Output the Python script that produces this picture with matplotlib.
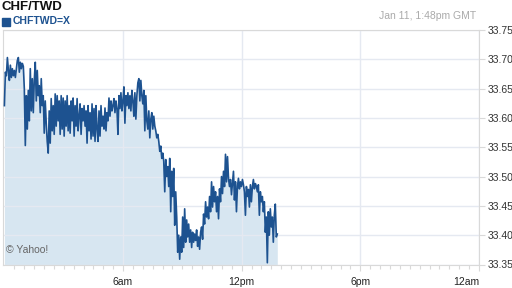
import numpy as np
import matplotlib
matplotlib.use("Agg")
import matplotlib.pyplot as plt

plt.rcParams['font.family'] = ['Liberation Sans', 'DejaVu Sans']

title = "CHF/TWD"
symbol = "CHFTWD=X"
stamp = "Jan 11, 1:48pm GMT"
credit = "\u00a9 Yahoo!"

# CHF/TWD quotes, midnight to 1:48pm GMT
rate = [
    33.621, 33.678, 33.672, 33.703, 33.681, 33.664, 33.690, 33.669, 33.684, 33.672,
    33.681, 33.669, 33.684, 33.698, 33.703, 33.678, 33.695, 33.684, 33.693, 33.688,
    33.650, 33.553, 33.638, 33.581, 33.647, 33.595, 33.684, 33.612, 33.667, 33.609,
    33.664, 33.695, 33.629, 33.681, 33.638, 33.655, 33.609, 33.667, 33.621, 33.638,
    33.574, 33.629, 33.591, 33.560, 33.540, 33.612, 33.557, 33.633, 33.578, 33.621,
    33.572, 33.641, 33.586, 33.638, 33.595, 33.629, 33.572, 33.638, 33.581, 33.634,
    33.569, 33.629, 33.586, 33.638, 33.578, 33.621, 33.574, 33.629, 33.595, 33.634,
    33.569, 33.621, 33.586, 33.633, 33.578, 33.603, 33.624, 33.572, 33.616, 33.595,
    33.621, 33.586, 33.612, 33.557, 33.621, 33.578, 33.609, 33.564, 33.624, 33.569,
    33.616, 33.560, 33.621, 33.581, 33.560, 33.612, 33.569, 33.621, 33.586, 33.603,
    33.581, 33.617, 33.578, 33.609, 33.595, 33.634, 33.603, 33.629, 33.612, 33.621,
    33.633, 33.609, 33.629, 33.616, 33.572, 33.638, 33.616, 33.643, 33.612, 33.629,
    33.653, 33.591, 33.638, 33.621, 33.643, 33.616, 33.638, 33.612, 33.647, 33.629,
    33.603, 33.643, 33.598, 33.638, 33.660, 33.667, 33.629, 33.664, 33.638, 33.624,
    33.647, 33.578, 33.638, 33.595, 33.581, 33.612, 33.566, 33.598, 33.609, 33.581,
    33.603, 33.586, 33.578, 33.566, 33.572, 33.560, 33.543, 33.552, 33.531, 33.540,
    33.526, 33.474, 33.529, 33.500, 33.517, 33.483, 33.531, 33.440, 33.509, 33.466,
    33.514, 33.417, 33.474, 33.431, 33.371, 33.400, 33.359, 33.397, 33.371, 33.431,
    33.379, 33.445, 33.388, 33.426, 33.397, 33.419, 33.388, 33.409, 33.379, 33.405,
    33.388, 33.402, 33.391, 33.409, 33.381, 33.397, 33.376, 33.405, 33.414, 33.393,
    33.436, 33.419, 33.457, 33.431, 33.448, 33.428, 33.466, 33.440, 33.491, 33.448,
    33.483, 33.457, 33.474, 33.440, 33.466, 33.428, 33.479, 33.457, 33.500, 33.471,
    33.509, 33.483, 33.538, 33.491, 33.534, 33.497, 33.483, 33.495, 33.469, 33.488,
    33.509, 33.460, 33.491, 33.440, 33.483, 33.497, 33.479, 33.491, 33.483, 33.495,
    33.486, 33.474, 33.434, 33.483, 33.466, 33.478, 33.448, 33.486, 33.457, 33.483,
    33.495, 33.479, 33.488, 33.483, 33.474, 33.486, 33.434, 33.474, 33.457, 33.466,
    33.440, 33.457, 33.405, 33.431, 33.353, 33.440, 33.400, 33.445, 33.414, 33.431,
    33.388, 33.434, 33.453, 33.397, 33.402,
]
hours = np.linspace(0, 13.8, len(rate))

y_ticks = [33.35, 33.40, 33.45, 33.50, 33.55, 33.60, 33.65, 33.70, 33.75]
x_ticks = [6, 12, 18, 24]
x_labels = ["6am", "12pm", "6pm", "12am"]

line_col = "#1d5290"
fill_col = "#d7e6f1"
grid_col = "#e5e9f1"
edge_col = "#d9d9d9"

fig = plt.figure(figsize=(5.12, 2.88), dpi=100)
ax = fig.add_axes([2.7 / 512, 1 - 264.5 / 288, (479 - 2.7) / 512, (264.5 - 30) / 288])

ax.fill_between(hours, rate, 33.35, color=fill_col, lw=0, zorder=1)
ax.plot(hours, rate, color=line_col, lw=1.2, zorder=3)

ax.set_xlim(-0.086, 24)
ax.set_ylim(33.35, 33.75)

ax.set_yticks(y_ticks)
ax.set_yticklabels([f"{v:.2f}" for v in y_ticks])
ax.yaxis.tick_right()
ax.set_xticks(x_ticks)
ax.set_xticklabels(x_labels)
ax.set_xticks(np.arange(0.5, 24, 0.5), minor=True)

ax.grid(True, which="major", color=grid_col, lw=1.0, zorder=2)
ax.tick_params(axis="y", which="major", length=4, width=0.8, color=edge_col,
               labelsize=7.5, labelcolor="#333333", pad=2)
ax.tick_params(axis="x", which="major", length=4, width=0.8, color=edge_col,
               labelsize=7.5, labelcolor="#222222", pad=5)
ax.tick_params(axis="x", which="minor", length=3, width=0.8, color=edge_col)

for lab in ax.get_xticklabels():
    if lab.get_text() == "12am":
        lab.set_horizontalalignment("right")

for sp in ax.spines.values():
    sp.set_color(edge_col)
    sp.set_linewidth(0.8)

fig.text(2 / 512, 1 - 1.5 / 288, title, fontsize=9.5, fontweight="bold",
         color="#111111", va="top", ha="left")
fig.patches.append(plt.Rectangle((2 / 512, 1 - 26 / 288), 8 / 512, 8 / 288,
                                 transform=fig.transFigure, color=line_col))
fig.text(13 / 512, 1 - 16.5 / 288, symbol, fontsize=7.5, fontweight="bold",
         color=line_col, va="top", ha="left")
fig.text(476 / 512, 1 - 11 / 288, stamp, fontsize=7.5, color="#aaaaaa",
         va="top", ha="right")
ax.text(0.006, 0.04, credit, transform=ax.transAxes, fontsize=7.5,
        color="#666666", va="bottom", ha="left", zorder=4)

fig.savefig("out.png", dpi=100)
